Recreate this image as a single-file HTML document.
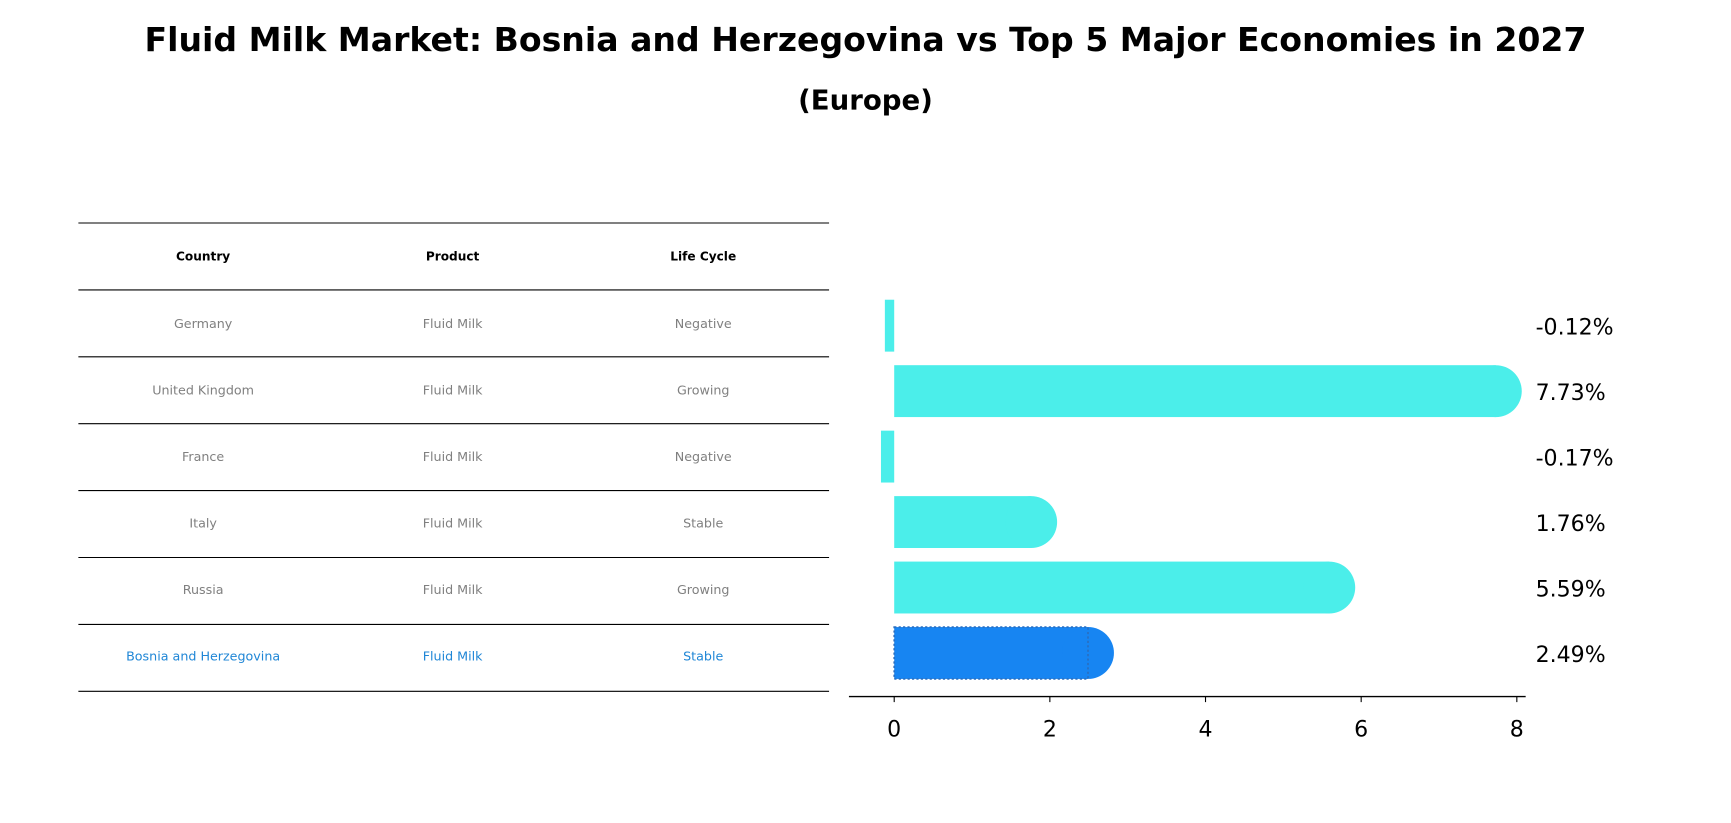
<!DOCTYPE html>
<html><head><meta charset="utf-8"><style>
body{margin:0;background:#fff;}
#root{position:relative;width:1731px;height:823px;overflow:hidden;}
</style></head><body>
<div id="root">
<svg id="svg" width="1731" height="823" viewBox="0 0 1568 745.5" style="position:absolute;left:0;top:0">
<text x="784" y="46" text-anchor="middle" font-size="30" font-weight="bold" font-family="DejaVu Sans, sans-serif">Fluid Milk Market: Bosnia and Herzegovina vs Top 5 Major Economies in 2027</text>
<text x="784" y="99" text-anchor="middle" font-size="25" font-weight="bold" font-family="DejaVu Sans, sans-serif">(Europe)</text>
</svg>
</div>
<script>
const countries=["Germany","United Kingdom","France","Italy","Russia","Bosnia and Herzegovina"];
const products=["Fluid Milk","Fluid Milk","Fluid Milk","Fluid Milk","Fluid Milk","Fluid Milk"];
const lifecycles=["Negative","Growing","Negative","Stable","Growing","Stable"];
const values=[-0.12,7.73,-0.17,1.76,5.59,2.49];
const labels=["-0.12%","7.73%","-0.17%","1.76%","5.59%","2.49%"];
const ticks=[0,2,4,6,8];
const NS="http://www.w3.org/2000/svg";
const svg=document.getElementById('svg');
const FF='DejaVu Sans, sans-serif';
function mk(tag,attrs,parent){const e=document.createElementNS(NS,tag);for(const k in attrs)e.setAttribute(k,attrs[k]);(parent||svg).appendChild(e);return e;}
function xs(v){return 810+v*70.5;}
// table
const colX=[184,410,637];
const hdr=["Country","Product","Life Cycle"];
for(let i=0;i<=countries.length+1;i++){const y=202+i*60.6;
const l=mk('line',{x1:71,x2:751,y1:y,y2:y,stroke:'#000','stroke-width':1});

}
hdr.forEach((h,j)=>{const t=mk('text',{x:colX[j],y:236,'text-anchor':'middle','font-size':11,'font-weight':'bold','font-family':FF});t.textContent=h;

});
countries.forEach((c,i)=>{const y=297+i*60.3;const col=i===5?'#1f86d6':'#808080';
[c,products[i],lifecycles[i]].forEach((s,j)=>{const t=mk('text',{x:colX[j],y:y,'text-anchor':'middle','font-size':11.5,fill:col,'font-family':FF});t.textContent=s;

});});
// bars
const h=47;
values.forEach((v,i)=>{const cy=295+i*59.3;const x0=xs(0),x1=xs(v);const col=i===5?'#1785f2':'#4beeea';
const g=mk('g',{});


if(v>0){mk('rect',{x:x0,y:cy-h/2,width:x1-x0,height:h,fill:col},g);mk('circle',{cx:x1,cy:cy,r:h/2,fill:col},g);
if(i===5)mk('rect',{x:x0,y:cy-h/2,width:x1-x0,height:h,fill:'none',stroke:'#2a6fc0','stroke-width':1.5,'stroke-dasharray':'2,2'},g);}
else mk('rect',{x:x1,y:cy-h/2,width:x0-x1,height:h,fill:col},g);
const t=mk('text',{x:1391,y:cy+8,'font-size':20,'font-family':FF});t.textContent=labels[i];

});
// axis
const ax=mk('line',{x1:769,x2:1382,y1:631,y2:631,stroke:'#000','stroke-width':1.2});


ticks.forEach(v=>{mk('line',{x1:xs(v),x2:xs(v),y1:631,y2:636,stroke:'#000'});
const t=mk('text',{x:xs(v),y:667,'text-anchor':'middle','font-size':20,'font-family':FF});t.textContent=v;

});
</script>
</body></html>
